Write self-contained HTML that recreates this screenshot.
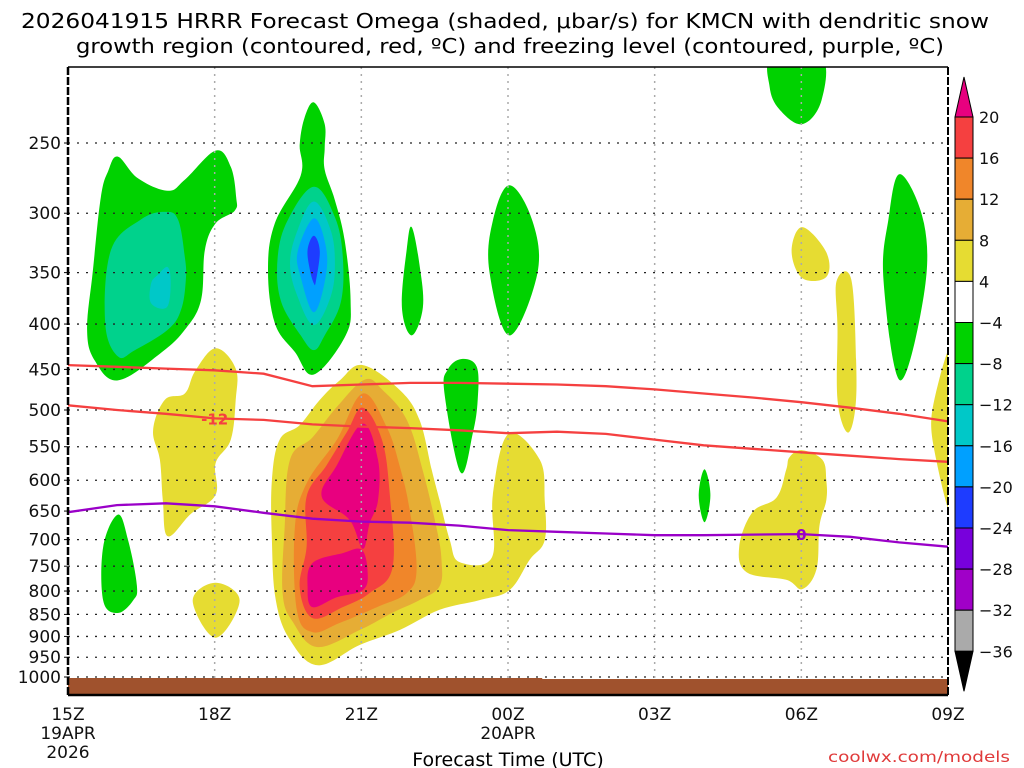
<!DOCTYPE html>
<html><head><meta charset="utf-8"><style>
html,body{margin:0;padding:0;background:#fff;}
svg{display:block;}
text{font-family:"DejaVu Sans","Liberation Sans",sans-serif;}
</style></head><body>
<svg id="chart" width="1024" height="768" xmlns="http://www.w3.org/2000/svg">
<text x="505" y="28" font-size="20" text-anchor="middle" textLength="968" lengthAdjust="spacingAndGlyphs">2026041915 HRRR Forecast Omega (shaded, μbar/s) for KMCN with dendritic snow</text>
<text x="510" y="53" font-size="20" text-anchor="middle" textLength="868" lengthAdjust="spacingAndGlyphs">growth region (contoured, red, ºC) and freezing level (contoured, purple, ºC)</text>
<g id="plot"></g>
<text x="508" y="766" font-size="19" text-anchor="middle">Forecast Time (UTC)</text>
<text x="1010" y="762" font-size="15" fill="#e03a3a" text-anchor="end" textLength="182" lengthAdjust="spacingAndGlyphs">coolwx.com/models</text>
</svg>
<script>
// ---- data ----
const pressureTicks = [250,300,350,400,450,500,550,600,650,700,750,800,850,900,950,1000];
const hourTicks = [0,3,6,9,12,15,18];
const hourTickLabels = ["15Z","18Z","21Z","00Z","03Z","06Z","09Z"];
const dateLabels = {0:["19APR","2026"],9:["20APR"]};
const lineHours = [0,1,2,3,4,5,6,7,8,9,10,11,12,13,14,15,16,17,18];
const dgzTop = [445,447,449,451,455,470,468,466,466,467,468,470,474,479,484,490,497,505,515];
const dgzBottom = [494,500,505,511,513,519,522,524,527,531,529,532,540,548,553,558,563,568,572];
const freezingLevel = [652,640,637,642,653,663,668,670,675,683,686,689,692,692,691,690,695,705,713];
const cbLevels = ["20","16","12","8","4","−4","−8","−12","−16","−20","−24","−28","−32","−36"];
const cbColors = ["#f54040","#f0862a","#e6ad35","#e6dc32","#ffffff","#00d200","#00d28c","#00c8c8","#00a0ff","#1e3cff","#7800dc","#a000c8","#aaaaaa"];
// omega regions: [level, [[hour, pressure],...]]
const regions = [
 ["-8",[[1.02,259],[1.43,274],[2.04,283],[2.39,275],[3.02,255],[3.33,266],[3.44,288],[3.41,298],[3.02,308],[2.8,330],[2.72,376],[2.39,406],[1.88,432],[1.02,463],[0.55,440],[0.39,406],[0.51,348],[0.67,288],[0.82,269]]],
 ["-12",[[1.02,435],[0.76,399],[0.88,330],[1.49,305],[1.98,299],[2.25,305],[2.39,336],[2.41,357],[2.31,386],[2.04,406],[1.37,428]]],
 ["-16",[[2.04,345],[2.1,360],[2.02,383],[1.7,379],[1.7,360],[1.84,352]]],
 ["-8",[[5.03,225],[5.25,238],[5.25,253],[5.25,268],[5.46,290],[5.66,322],[5.78,376],[5.68,412],[5.03,456],[4.64,430],[4.23,399],[4.09,348],[4.23,308],[4.76,272],[4.74,251],[4.84,234]]],
 ["-12",[[5.03,280],[5.46,303],[5.62,336],[5.58,378],[5.25,412],[5.03,428],[4.76,412],[4.35,376],[4.29,336],[4.5,305]]],
 ["-16",[[5.03,291],[5.37,313],[5.46,342],[5.37,373],[5.03,401],[4.7,373],[4.54,342],[4.7,313]]],
 ["-20",[[5.03,304],[5.27,326],[5.27,354],[5.03,388],[4.76,354],[4.7,331]]],
 ["-24",[[5.03,318],[5.15,331],[5.07,358],[5.03,360],[4.95,348],[4.9,330]]],
 ["-8",[[7.03,311],[7.19,343],[7.26,383],[7.03,412],[6.83,383],[6.93,329]]],
 ["-8",[[9.03,279],[9.5,306],[9.6,351],[9.03,412],[8.62,349],[8.69,306]]],
 ["-8",[[8.05,438],[8.36,447],[8.38,487],[8.28,531],[8.03,588],[7.7,478],[7.77,450]]],
 ["-8",[[1.02,656],[1.23,701],[1.41,789],[1.33,820],[1.02,847],[0.72,820],[0.72,713]]],
 ["-8",[[14.41,200],[15.41,200],[15.41,224],[15.02,238],[14.55,229],[14.35,216]]],
 ["-8",[[17.02,271],[17.51,308],[17.51,370],[17.02,463],[16.68,357],[16.78,305]]],
 ["-8",[[13.02,583],[13.14,624],[13.02,669],[12.9,624]]],
 ["4",[[3.02,426],[3.43,449],[3.43,487],[3.33,540],[3.02,574],[3.02,623],[2.51,655],[2.04,694],[1.94,632],[1.88,569],[1.74,527],[1.98,487],[2.39,479],[2.6,452]]],
 ["4",[[3.02,783],[3.51,820],[3.02,903],[2.55,820]]],
 ["4",[[15.02,311],[15.51,332],[15.51,354],[15.02,355],[14.8,331]]],
 ["4",[[15.72,358],[16.02,356],[16.12,439],[16.1,500],[15.94,530],[15.74,487],[15.74,405]]],
 ["4",[[18.2,420],[17.72,487],[17.72,555],[18.2,670]]],
 ["4",[[15.02,555],[15.43,569],[15.51,600],[15.51,632],[15.37,676],[15.31,756],[15.02,796],[14.69,777],[13.88,762],[13.73,713],[14.0,652],[14.49,628],[14.69,584],[14.76,565]]],
 ["4",[[6.03,445],[6.79,475],[7.19,513],[7.44,584],[7.6,632],[7.81,701],[8.01,742],[8.67,733],[8.69,624],[9.01,532],[9.65,569],[9.75,632],[9.75,701],[9.44,738],[9.03,798],[8.42,819],[7.6,840],[6.79,885],[5.97,920],[5.11,970],[4.54,908],[4.25,819],[4.17,701],[4.17,600],[4.33,540],[4.74,520],[5.15,487],[5.56,463]]],
 ["8",[[6.07,462],[6.44,475],[6.93,513],[7.26,586],[7.54,680],[7.64,738],[7.6,790],[7.19,819],[6.64,846],[5.97,885],[5.09,925],[4.6,867],[4.39,804],[4.43,680],[4.54,569],[5.0,537],[5.5,496]]],
 ["12",[[6.03,479],[6.52,523],[6.79,580],[6.99,648],[7.13,756],[6.93,804],[6.32,834],[5.56,869],[5.0,890],[4.68,840],[4.64,680],[4.88,605],[5.5,540]]],
 ["16",[[6.03,497],[6.42,540],[6.58,621],[6.64,752],[6.17,804],[5.62,834],[5.0,858],[4.74,792],[4.88,713],[4.88,626],[5.29,577],[5.7,530]]],
 ["20",[[6.03,518],[6.34,569],[6.34,632],[6.17,671],[6.03,717],[5.76,665],[5.19,626],[5.5,577]]],
 ["20",[[6.01,719],[6.13,764],[6.03,798],[5.5,813],[5.0,834],[4.9,792],[5.0,744],[5.62,725]]]
];
const levelColor = {"20":"#e8007f","16":"#f54040","12":"#f0862a","8":"#e6ad35","4":"#e6dc32","-8":"#00d200","-12":"#00d28c","-16":"#00c8c8","-20":"#00a0ff","-24":"#1e3cff"};

// ---- axes ----
const X0=68, X1=948, TOPY=67, BOTY=695;
function X(h){ return X0 + h*(X1-X0)/18; }
function Y(p){ return 143 + 385.2*Math.log(p/250); }
const NS="http://www.w3.org/2000/svg";
const plot=document.getElementById('plot');
const svg=document.getElementById('chart');
function mk(tag,attrs,parent){ const e=document.createElementNS(NS,tag); for(const k in attrs) e.setAttribute(k,attrs[k]); (parent||plot).appendChild(e); return e; }
function smoothClosed(pts){
  const n=pts.length, t=0.18;
  let d='M'+pts[0][0].toFixed(1)+','+pts[0][1].toFixed(1);
  for(let i=0;i<n;i++){
    const p0=pts[(i-1+n)%n],p1=pts[i],p2=pts[(i+1)%n],p3=pts[(i+2)%n];
    const c1=[p1[0]+(p2[0]-p0[0])*t,p1[1]+(p2[1]-p0[1])*t];
    const c2=[p2[0]-(p3[0]-p1[0])*t,p2[1]-(p3[1]-p1[1])*t];
    d+='C'+c1[0].toFixed(1)+','+c1[1].toFixed(1)+' '+c2[0].toFixed(1)+','+c2[1].toFixed(1)+' '+p2[0].toFixed(1)+','+p2[1].toFixed(1);
  }
  return d+'Z';
}

const defs=mk('defs',{},svg);
const cp=mk('clipPath',{id:'clip'},defs);
mk('rect',{x:X0,y:TOPY,width:X1-X0,height:BOTY-TOPY},cp);
const g=mk('g',{'clip-path':'url(#clip)'});



regions.forEach((r,i)=>{
  const pts=r[1].map(q=>[X(q[0]),Y(q[1])]);
  const e=mk('path',{d:smoothClosed(pts),fill:levelColor[r[0]]},g);
  
  
});

pressureTicks.forEach(p=>{
  const y=Y(p);
  const l=mk('line',{x1:X0,x2:X1,y1:y,y2:y,stroke:'#222','stroke-width':1.3,'stroke-dasharray':'2 7'},g);
  
  
  const t=mk('text',{x:61,y:y+6,'font-size':17,'text-anchor':'end',fill:'#111'});
  t.textContent=p;
  
  
  mk('line',{x1:X0-4,x2:X0,y1:y,y2:y,stroke:'#000','stroke-width':1});
});
hourTicks.forEach((h,i)=>{
  const x=X(h);
  if(i>0 && i<hourTicks.length-1){
    const l=mk('line',{x1:x,x2:x,y1:TOPY,y2:BOTY,stroke:'#aaa','stroke-width':1.5,'stroke-dasharray':'2 5'},g);
    
    
  }
  const t=mk('text',{x:x,y:720,'font-size':17,'text-anchor':'middle',fill:'#111'});
  t.textContent=hourTickLabels[i];
  
  
  (dateLabels[h]||[]).forEach((s,j)=>{
    const d=mk('text',{x:x,y:739+j*19,'font-size':17,'text-anchor':'middle',fill:'#111'});
    d.textContent=s;
    
    
  });
});

const gr=mk('polygon',{points:`${X0},678 ${X(9.7)},678 ${X(9.7)},679 ${X1},679 ${X1},${BOTY} ${X0},${BOTY}`,fill:'#a0522d'},g);



function line(arr,color,name){
  const d=lineHours.map((h,i)=>(i?'L':'M')+X(h).toFixed(1)+','+Y(arr[i]).toFixed(1)).join(' ');
  const e=mk('path',{d:d,fill:'none',stroke:color,'stroke-width':2.3},g);
  
  
}
line(dgzTop,'#f54040','dgz-top-contour');
line(dgzBottom,'#f54040','dgz-minus12-contour');
line(freezingLevel,'#9a00c8','freezing-level-contour');
function lab(h,arr,txt,color,name){
  const x=X(h), y=Y(arr[lineHours.indexOf(h)]);
  const t=mk('text',{x:x,y:y+6,'font-size':15,'font-weight':'bold','text-anchor':'middle',fill:color},g);
  t.textContent=txt;
  
  
}
lab(3,dgzBottom,'-12','#f54040','dgz-contour-label');
lab(15,freezingLevel,'0','#9a00c8','freezing-contour-label');

mk('line',{x1:X0,x2:X1,y1:TOPY,y2:TOPY,stroke:'#000','stroke-width':1.5});
mk('line',{x1:X0,x2:X1,y1:BOTY,y2:BOTY,stroke:'#000','stroke-width':2.5});
mk('line',{x1:X0,x2:X0,y1:TOPY,y2:BOTY,stroke:'#000','stroke-width':2.5,'stroke-dasharray':'8 2'});
mk('line',{x1:X1,x2:X1,y1:TOPY,y2:BOTY,stroke:'#000','stroke-width':2,'stroke-dasharray':'8 2'});

const cb=mk('g',{},svg);


const cbX=955, cbW=18, cbTop=117, cbStep=41.1;
mk('polygon',{points:`${cbX},${cbTop} ${cbX+cbW},${cbTop} ${cbX+cbW/2},77`,fill:'#e8007f',stroke:'#000','stroke-width':1},cb);
cbColors.forEach((c,i)=>{
  const r=mk('rect',{x:cbX,y:cbTop+i*cbStep,width:cbW,height:cbStep,fill:c,stroke:'#000','stroke-width':1},cb);
  
  
});
const cbBot=cbTop+cbColors.length*cbStep;
mk('polygon',{points:`${cbX},${cbBot} ${cbX+cbW},${cbBot} ${cbX+cbW/2},${cbBot+40}`,fill:'#000',stroke:'#000','stroke-width':1},cb);
cbLevels.forEach((s,i)=>{
  const t=mk('text',{x:979,y:cbTop+i*cbStep+6,'font-size':16,fill:'#111'},cb);
  t.textContent=s;
  
  
});
</script>
</body></html>
